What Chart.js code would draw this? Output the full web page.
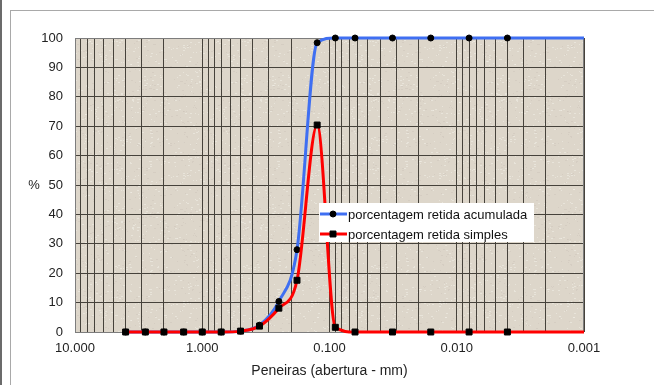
<!DOCTYPE html>
<html>
<head>
<meta charset="utf-8">
<script src="https://cdn.jsdelivr.net/npm/chart.js@4/dist/chart.umd.min.js"></script>
<style>
  html, body { margin: 0; padding: 0; background: #ffffff; }
  #wrap { position: relative; width: 654px; height: 385px; overflow: hidden; }
  #edge { position: absolute; left: 0; top: 0; width: 2px; height: 385px; background: #6b6b6b; }
  #frame { position: absolute; left: 10px; top: 10px; width: 700px; height: 420px;
           border-top: 1px solid #a9a9a9; border-left: 1px solid #a9a9a9; }
  canvas { position: absolute; left: 0; top: 0; }
</style>
</head>
<body>
<div id="wrap">
  <div id="edge"></div>
  <div id="frame"></div>
  <canvas id="chart" width="654" height="385"></canvas>
</div>
<script>
// Sieve openings (mm) and retained percentages
const sieves = [4.0, 2.8, 2.0, 1.4, 1.0, 0.71, 0.5, 0.355, 0.25, 0.18, 0.125, 0.09, 0.063, 0.032, 0.016, 0.008, 0.004, 0.001];
const retidaAcumulada = [0, 0, 0, 0, 0, 0, 0.3, 2.3, 10.4, 28.0, 98.4, 100, 100, 100, 100, 100, 100, 100];
const retidaSimples   = [0, 0, 0, 0, 0, 0, 0.3, 2.0, 8.1, 17.6, 70.4, 1.6, 0, 0, 0, 0, 0, 0];
// the last row closes the curve at the axis end, without a marker
const markerShown = [1, 1, 1, 1, 1, 1, 1, 1, 1, 1, 1, 1, 1, 1, 1, 1, 1, 0];

// log grid: 1..9 in each decade from 0.001 to 10
const decades = [0.001, 0.01, 0.1, 1, 10];
const multipliers = [1, 2, 3, 4, 5, 6, 7, 8, 9];
const yTicks = [0, 10, 20, 30, 40, 50, 60, 70, 80, 90, 100];

const legendLabels = ['porcentagem retida acumulada', 'porcentagem retida simples'];
const axisTitle = 'Peneiras (abertura - mm)';
const yTitle = '%';

const FONT = "'Liberation Sans', Arial, sans-serif";

const xTickValues = [];
decades.forEach((d, i) => {
  if (i === decades.length - 1) { xTickValues.push(d); return; }
  multipliers.forEach(m => xTickValues.push(+(d * m).toPrecision(3)));
});

const toPoints = vals => sieves.map((s, i) => ({ x: s, y: vals[i] }));

// granite-like plot background
const textureCanvas = (() => {
  const c = document.createElement('canvas');
  c.width = 128; c.height = 128;
  const g = c.getContext('2d');
  g.fillStyle = '#ddd6ca';
  g.fillRect(0, 0, 128, 128);
  let s = 12345;
  const next = () => { s = (s * 1103515245 + 12345) & 0x7fffffff; return s / 0x7fffffff; };
  for (let k = 0; k < 700; k++) {
    const x = Math.floor(next() * 128), y = Math.floor(next() * 128);
    const v = next();
    g.fillStyle = v < 0.6 ? 'rgba(240,236,229,0.6)' : 'rgba(205,196,183,0.45)';
    g.fillRect(x, y, 1 + Math.floor(next() * 2), 1);
  }
  return c;
})();

const plotBackground = {
  id: 'plotBackground',
  beforeDraw(chart) {
    const { ctx, chartArea: a } = chart;
    ctx.save();
    ctx.fillStyle = ctx.createPattern(textureCanvas, 'repeat');
    ctx.fillRect(a.left, a.top, a.right - a.left, a.bottom - a.top);
    ctx.restore();
  },
  beforeDatasetsDraw(chart) {
    const { ctx, chartArea: a } = chart;
    ctx.save();
    ctx.strokeStyle = '#7d7d7d';
    ctx.lineWidth = 1;
    ctx.strokeRect(a.left + 0.5, a.top + 0.5, a.right - a.left - 1, a.bottom - a.top);
    ctx.restore();
  }
};

const extras = {
  id: 'extras',
  afterDraw(chart) {
    const { ctx, chartArea: a } = chart;
    const y = chart.scales.y;
    ctx.save();
    // "%" axis label
    ctx.fillStyle = '#222';
    ctx.font = '13px ' + FONT;
    ctx.textAlign = 'center';
    ctx.textBaseline = 'middle';
    ctx.fillText(yTitle, 34, y.getPixelForValue(50));

    // legend box inside the plot
    const bx = a.left + 244, by = a.top + 165, bw = 215, bh = 39;
    ctx.fillStyle = '#ffffff';
    ctx.fillRect(bx, by, bw, bh);
    const rows = [
      { color: '#3f6ff2', style: 'circle', r: 3 },
      { color: '#ff0000', style: 'rect', r: 4.2 }
    ];
    rows.forEach((row, i) => {
      const cy = by + 11 + i * 20;
      ctx.strokeStyle = row.color;
      ctx.lineWidth = 3;
      ctx.beginPath();
      ctx.moveTo(bx + 1, cy);
      ctx.lineTo(bx + 28, cy);
      ctx.stroke();
      ctx.fillStyle = '#000';
      ctx.strokeStyle = '#000';
      ctx.lineWidth = 1;
      Chart.helpers.drawPoint(ctx, { pointStyle: row.style, radius: row.r, rotation: 0, borderWidth: 1 }, bx + 14, cy);
      ctx.fillStyle = '#111';
      ctx.font = '13px ' + FONT;
      ctx.textAlign = 'left';
      ctx.textBaseline = 'middle';
      ctx.fillText(legendLabels[i], bx + 29, cy + 1);
    });
    ctx.restore();
  }
};

new Chart(document.getElementById('chart'), {
  type: 'line',
  data: {
    datasets: [
      {
        label: legendLabels[1],
        data: toPoints(retidaSimples),
        borderColor: '#ff0000',
        borderWidth: 3,
        pointStyle: 'rect',
        pointRadius: markerShown.map(m => m ? 4.2 : 0),
        pointBackgroundColor: '#000',
        pointBorderColor: '#000',
        pointBorderWidth: 1,
        cubicInterpolationMode: 'monotone',
        clip: false
      },
      {
        label: legendLabels[0],
        data: toPoints(retidaAcumulada),
        borderColor: '#3f6ff2',
        borderWidth: 3,
        pointStyle: 'circle',
        pointRadius: markerShown.map(m => m ? 3 : 0),
        pointBackgroundColor: '#000',
        pointBorderColor: '#000',
        pointBorderWidth: 1,
        cubicInterpolationMode: 'monotone',
        clip: false
      }
    ]
  },
  options: {
    responsive: false,
    animation: false,
    events: [],
    layout: { padding: { left: 0, top: 38, right: 70, bottom: 0 } },
    plugins: { legend: { display: false }, tooltip: { enabled: false } },
    scales: {
      x: {
        type: 'logarithmic',
        reverse: true,
        min: 0.001,
        max: 10,
        afterBuildTicks(scale) { scale.ticks = xTickValues.map(v => ({ value: v })); },
        afterFit(scale) { scale.height = 53; },
        ticks: {
          autoSkip: false,
          maxRotation: 0,
          padding: 9,
          color: '#222',
          font: { family: FONT, size: 13 },
          callback(value) { return decades.includes(value) ? value.toFixed(3) : ''; }
        },
        grid: { color: '#46423b', lineWidth: 1, drawTicks: false },
        border: { display: false },
        title: {
          display: true,
          text: axisTitle,
          color: '#222',
          font: { family: FONT, size: 14 },
          padding: { top: 4, bottom: 5 }
        }
      },
      y: {
        type: 'linear',
        min: 0,
        max: 100,
        afterBuildTicks(scale) { scale.ticks = yTicks.map(v => ({ value: v })); },
        afterFit(scale) { scale.width = 75; },
        ticks: {
          padding: 12,
          color: '#222',
          font: { family: FONT, size: 13 }
        },
        grid: { color: '#46423b', lineWidth: 1, drawTicks: false },
        border: { display: false }
      }
    }
  },
  plugins: [plotBackground, extras]
});
</script>
</body>
</html>
